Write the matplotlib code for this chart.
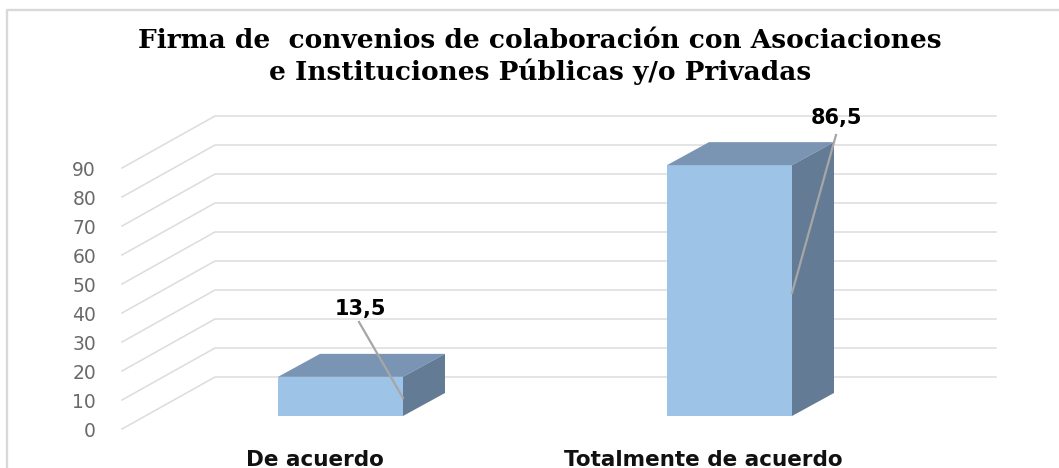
import matplotlib
matplotlib.use("Agg")
import matplotlib.pyplot as plt
from matplotlib.patches import Polygon
from matplotlib.lines import Line2D

categories = ["De acuerdo", "Totalmente de acuerdo"]
values = [13.5, 86.5]
value_labels = ["13,5", "86,5"]
ticks = [0, 10, 20, 30, 40, 50, 60, 70, 80, 90]
title_lines = ["Firma de  convenios de colaboración con Asociaciones", "e Instituciones Públicas y/o Privadas"]

W, H = 1059, 468
fig = plt.figure(figsize=(W/100, H/100), dpi=100, facecolor="white")
ax = fig.add_axes([0, 0, 1, 1])
ax.set_xlim(0, W); ax.set_ylim(H, 0); ax.axis("off")

GRID = "#dcdcdc"
# frame: left and top edges only are visible
ax.add_line(Line2D([7, 7, W], [H, 10, 10], color="#d9d9d9", lw=1.7, zorder=1))

# value scale of the plot
PX_PER_UNIT = 2.9
y0 = 429
def fy(v):
    return y0 - PX_PER_UNIT * v

dx, dy = 93, 52
x_front, x_back, x_right = 122, 215, 996
for t in ticks:
    y = fy(t)
    ax.add_line(Line2D([x_front, x_back, x_right], [y, y-dy, y-dy], color=GRID, lw=1.1, zorder=1))
    ax.text(96, y + 2.5, str(t), ha="right", va="center", fontsize=13.5, color="#6a6a6a",
            family="DejaVu Sans", zorder=5)

# bars
bars_x = [(278, 403), (667, 792)]
base_y = 416
bar_d = (42, 23)
for (x1, x2), v in zip(bars_x, values):
    top = base_y - v * PX_PER_UNIT
    ax.add_patch(Polygon([(x1, base_y), (x2, base_y), (x2, top), (x1, top)], fc="#9dc3e6", ec="none", zorder=2))
    ax.add_patch(Polygon([(x1, top), (x2, top), (x2+bar_d[0], top-bar_d[1]), (x1+bar_d[0], top-bar_d[1])],
                         fc="#7a95b3", ec="none", zorder=2))
    ax.add_patch(Polygon([(x2, top), (x2+bar_d[0], top-bar_d[1]), (x2+bar_d[0], base_y-bar_d[1]), (x2, base_y)],
                         fc="#647b95", ec="none", zorder=2))

# leader lines and labels
ax.add_line(Line2D([359, 403], [322, 398], color="#a6a6a6", lw=1.6, zorder=3))
ax.add_line(Line2D([792, 836], [293, 135], color="#a6a6a6", lw=1.6, zorder=3))
ax.text(360, 309, value_labels[0], ha="center", va="center", fontsize=15, fontweight="bold", color="black", zorder=5)
ax.text(836, 118, value_labels[1], ha="center", va="center", fontsize=15, fontweight="bold", color="black", zorder=5)

# category labels
ax.text(315, 460, categories[0], ha="center", va="center", fontsize=15.5, fontweight="bold", color="#111111", zorder=5)
ax.text(703, 460, categories[1], ha="center", va="center", fontsize=15.5, fontweight="bold", color="#111111", zorder=5)

# title
ax.text(540, 41, title_lines[0], ha="center", va="center", fontsize=19, fontweight="bold",
        family="DejaVu Serif", color="black", zorder=5)
ax.text(540, 72, title_lines[1], ha="center", va="center", fontsize=19, fontweight="bold",
        family="DejaVu Serif", color="black", zorder=5)

fig.savefig("out.png", dpi=100)
